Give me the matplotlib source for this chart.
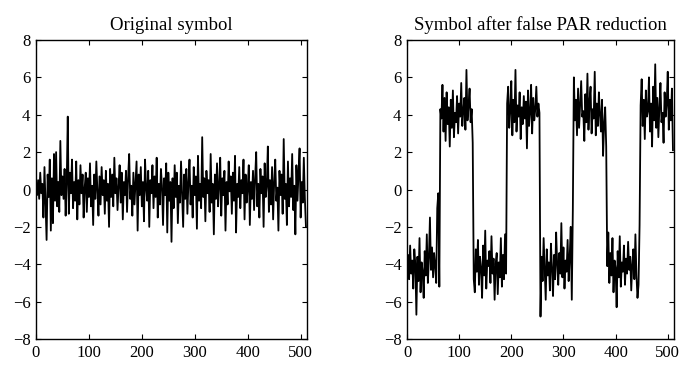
import numpy as np
import matplotlib
matplotlib.use("Agg")
import matplotlib.pyplot as plt

titles = ["Original symbol", "Symbol after false PAR reduction"]
xticks = [0, 100, 200, 300, 400, 500]
yticks = [-8, -6, -4, -2, 0, 2, 4, 6, 8]

# sample index of each plotted value (every 2nd sample of the 512-sample symbol)
samples = list(range(0, 512, 2))

original = [
    0.2, -0.3, 0.5, -0.5, 0.9, -0.2, 0.3, -1.5, 1.2, -0.8, -2.7, 0.8, -0.4, 1.6, -2.2, 0.6,
    -1.8, 1.9, -0.6, 2.0, -0.9, 0.4, -1.2, 2.6, -0.3, 0.7, -0.5, 1.1, -1.4, 0.3, 3.9, -1.3,
    0.9, -0.2, 1.6, -1.0, 0.4, -0.6, 1.5, -1.6, 0.5, -0.8, 1.3, -0.2, 0.8, -1.5, 0.1, 0.9,
    -1.2, 0.6, -0.4, 1.4, -0.9, 0.2, -1.9, 0.8, -0.5, 1.5, -0.1, -1.4, 0.7, -0.8, 1.2, -0.3,
    0.5, -1.3, 1.0, -0.6, 0.3, -2.0, 1.1, -0.4, 0.8, -0.9, 1.7, -0.2, 0.6, -1.1, 0.2, 1.3,
    -0.7, 0.9, -1.6, 0.4, -0.3, 1.0, -1.2, 0.6, 1.9, -0.5, 0.2, -1.4, 0.9, -0.8, 0.3, 1.5,
    -2.2, 0.8, -0.3, 1.2, -0.9, 0.4, -1.7, 1.6, 0.1, -0.6, 1.0, -2.0, 0.5, -0.2, 1.3, -1.0,
    0.7, -0.4, 1.7, -1.5, 0.3, -0.8, 1.1, 0.2, -1.9, 0.6, -0.3, 1.4, -2.3, 0.9, -0.6, 0.4,
    -2.8, 0.6, -1.0, 1.3, -0.4, 0.9, -1.8, 0.2, -0.7, 1.5, -0.2, -2.0, 0.8, -0.5, 1.1, -1.3,
    0.4, 1.6, -0.8, 0.2, -1.5, 1.2, -0.3, 0.7, -2.1, 1.8, -0.6, 0.3, -1.0, 2.8, -0.4, 0.6,
    -1.7, 1.0, -0.2, 0.5, -1.2, 1.9, -0.7, 0.3, -2.4, 0.8, -0.5, 1.4, -0.9, 0.2, 1.7, -1.4,
    0.6, -0.3, 1.0, -2.2, 0.4, -0.8, 1.5, -0.1, 0.7, -1.3, 0.9, -0.6, 1.8, -2.3, 0.3, -0.4,
    1.2, -1.0, 0.5, -0.2, 1.6, -1.6, 0.8, -0.7, 0.1, 1.3, -1.9, 0.4, -0.5, 1.0, -1.1, 0.6,
    2.0, -0.9, 0.3, -1.5, 1.1, -0.2, 0.7, -2.0, 1.4, -0.4, 0.2, 2.3, -1.2, 0.5, -0.8, 1.2,
    -1.6, 0.4, 1.6, -0.6, 0.1, -2.2, 1.0, -0.3, 0.8, -1.3, 2.7, -0.5, 0.3, -1.9, 1.5, -0.9,
    0.6, -0.4, 1.9, -1.1, 0.2, -2.4, 1.3, -0.6, 0.9, 2.2, -1.5, 0.4, -0.7, 1.7, -0.5, -2.0,
]

reduced = [
    -4.2, -3.5, -4.8, -3.0, -4.5, -3.8, -5.3, -3.2, -4.0, -6.7, -3.6, -4.9, -2.6, -5.5, -3.9, -4.4,
    -5.8, -3.3, -4.6, -2.4, -5.0, -3.7, -1.5, -4.3, -3.1, -4.7, -3.4, -4.1, -5.0, -1.0, -0.2, -5.2,
    4.3, 3.8, 5.6, 3.1, 4.9, 2.6, 5.2, 3.5, 4.4, 2.3, 4.8, 3.3, 5.3, 2.8, 4.1, 3.6,
    5.0, 3.0, 4.6, 3.9, 5.7, 3.4, 4.2, 4.9, 3.2, 6.4, 3.7, 4.5, 5.4, 3.6, 4.3, 2.5,
    -4.8, -5.5, -3.2, -4.4, -2.7, -5.1, -3.6, -4.2, -5.8, -3.0, -4.6, -2.2, -5.3, -3.8, -4.1, -3.3,
    -5.0, -2.5, -4.5, -3.7, -5.9, -4.0, -3.4, -5.6, -3.9, -4.7, -2.6, -5.2, -3.5, -4.8, -2.4, -4.5,
    4.6, 5.5, 3.3, 4.2, 5.8, 2.9, 4.8, 3.6, 6.4, 3.1, 4.5, 3.9, 5.2, 2.7, 4.4, 3.5,
    5.0, 3.8, 4.7, 2.2, 5.3, 3.4, 4.1, 5.6, 3.0, 4.9, 3.7, 4.3, 5.5, 3.9, 4.6, 4.1,
    -6.8, -3.6, -4.9, -2.6, -4.3, -5.9, -3.2, -4.6, -3.9, -5.4, -2.9, -4.2, -5.7, -3.5, -4.8, -2.3,
    -4.0, -5.1, -3.4, -4.5, -1.8, -4.7, -3.1, -5.3, -3.8, -4.4, -2.7, -4.9, -3.6, -2.0, -5.9, -1.1,
    6.0, 3.7, 4.8, 2.9, 5.4, 3.3, 4.5, 5.8, 3.9, 4.2, 2.6, 5.1, 3.6, 6.2, 3.2, 4.7,
    5.5, 3.0, 4.3, 3.8, 6.3, 2.9, 4.6, 3.4, 5.2, 4.0, 3.1, 4.8, 1.8, 3.5, 4.4, 2.3,
    -4.1, -2.3, -5.0, -3.4, -4.6, -2.6, -5.5, -3.8, -4.2, -6.3, -3.3, -4.7, -2.5, -5.2, -3.9, -4.4,
    -3.0, -5.1, -3.7, -4.5, -2.8, -4.3, -3.6, -5.4, -4.0, -3.2, -4.8, -2.4, -4.6, -5.8, -5.1, -1.9,
    4.5, 5.9, 3.4, 4.8, 2.7, 5.3, 3.9, 4.2, 6.0, 3.1, 4.6, 2.3, 5.5, 3.7, 6.7, 3.3,
    4.9, 2.8, 4.4, 5.7, 3.6, 4.1, 2.5, 5.2, 3.9, 4.6, 6.3, 3.2, 4.8, 3.7, 5.4, 2.1,
]

plt.rcParams['font.family'] = ['Liberation Serif', 'DejaVu Serif']
plt.rcParams['axes.unicode_minus'] = True

fig = plt.figure(figsize=(6.81, 3.65), dpi=100)
positions = [[36/681, 26/365, 271/681, 299/365],
             [407/681, 26/365, 267/681, 299/365]]

for pos, title, data in zip(positions, titles, [original, reduced]):
    ax = fig.add_axes(pos)
    ax.plot(samples, data, color='black', linewidth=1.3)
    ax.set_xlim(0, 512)
    ax.set_ylim(-8, 8)
    ax.set_xticks(xticks)
    ax.set_yticks(yticks)
    ax.tick_params(direction='in', top=True, right=True, length=3.5, width=0.8,
                   labelsize=12, pad=4)
    for s in ax.spines.values():
        s.set_linewidth(1.0)
    ax.set_title(title, fontsize=13.5, pad=7)

fig.savefig('out.png', dpi=100)
